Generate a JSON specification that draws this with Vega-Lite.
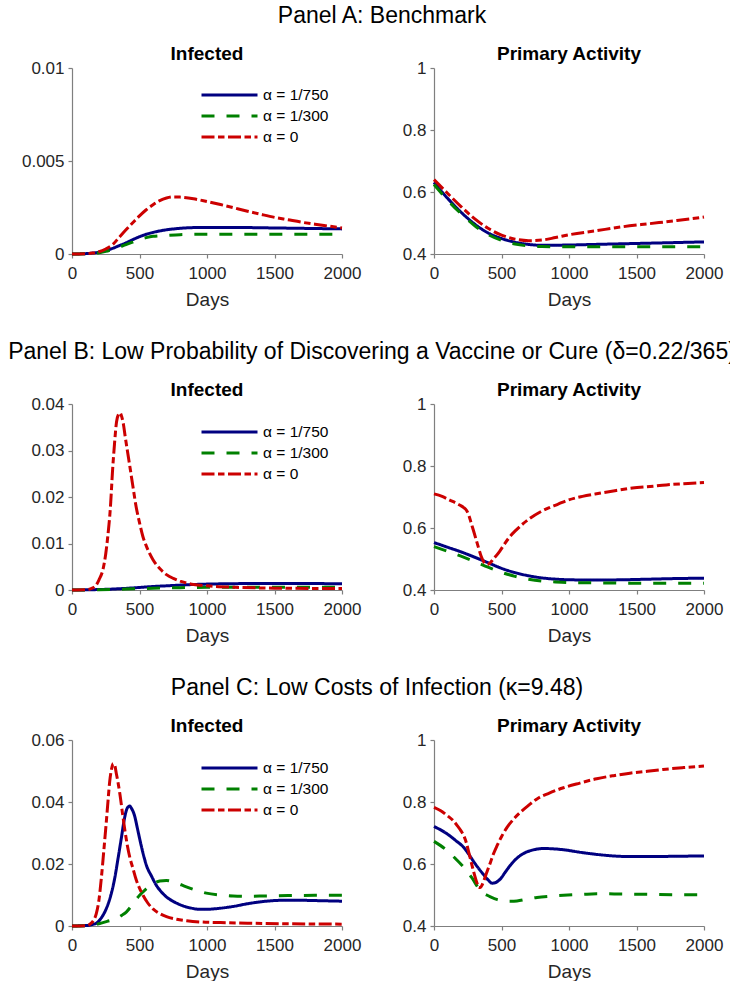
{
  "$schema": "https://vega.github.io/schema/vega-lite/v6.json",
  "background": "white",
  "padding": {"left": 8, "top": 5, "right": 0, "bottom": 0},
  "config": {
    "font": "Liberation Sans",
    "view": {"stroke": null},
    "axis": {
      "grid": false, "domainColor": "#7f7f7f", "tickColor": "#7f7f7f", "tickSize": 4,
      "domainWidth": 1.2, "tickWidth": 1.2,
      "labelFont": "Liberation Sans", "labelFontSize": 17, "labelColor": "#262626",
      "titleFont": "Liberation Sans", "titleFontSize": 19, "titleFontWeight": "normal", "titleColor": "#262626",
      "labelFlush": false, "labelOverlap": false
    },
    "axisX": {"labelPadding": 7, "titlePadding": 9},
    "axisY": {"labelPadding": 4},
    "title": {"font": "Liberation Sans", "fontSize": 19, "fontWeight": "bold", "color": "#000000", "offset": -5, "anchor": "middle", "frame": "group"},
    "legend": {
      "symbolType": "stroke", "symbolSize": 3136, "symbolStrokeWidth": 3, "clipHeight": 16,
      "labelFont": "Liberation Sans", "labelFontSize": 15.5, "labelColor": "#000000",
      "labelOffset": 4, "rowPadding": 4
    }
  },
  "datasets": {
    "aI": [
      {"s": "1/750", "d": 0, "v": 0}, {"s": "1/750", "d": 100, "v": 0.00002}, {"s": "1/750", "d": 150, "v": 0.00005}, {"s": "1/750", "d": 200, "v": 0.0001}, {"s": "1/750", "d": 250, "v": 0.00018}, {"s": "1/750", "d": 300, "v": 0.0003}, {"s": "1/750", "d": 350, "v": 0.00045}, {"s": "1/750", "d": 400, "v": 0.0006}, {"s": "1/750", "d": 450, "v": 0.00077}, {"s": "1/750", "d": 500, "v": 0.00093}, {"s": "1/750", "d": 550, "v": 0.00106}, {"s": "1/750", "d": 600, "v": 0.00116}, {"s": "1/750", "d": 650, "v": 0.00124}, {"s": "1/750", "d": 700, "v": 0.0013}, {"s": "1/750", "d": 800, "v": 0.00138}, {"s": "1/750", "d": 900, "v": 0.00142}, {"s": "1/750", "d": 1000, "v": 0.00143}, {"s": "1/750", "d": 1200, "v": 0.00143}, {"s": "1/750", "d": 1400, "v": 0.00141}, {"s": "1/750", "d": 1600, "v": 0.00139}, {"s": "1/750", "d": 1800, "v": 0.00137}, {"s": "1/750", "d": 2000, "v": 0.00135},
      {"s": "1/300", "d": 0, "v": 0}, {"s": "1/300", "d": 150, "v": 0.00003}, {"s": "1/300", "d": 200, "v": 0.00007}, {"s": "1/300", "d": 250, "v": 0.00014}, {"s": "1/300", "d": 300, "v": 0.00025}, {"s": "1/300", "d": 350, "v": 0.00038}, {"s": "1/300", "d": 400, "v": 0.0005}, {"s": "1/300", "d": 450, "v": 0.00064}, {"s": "1/300", "d": 500, "v": 0.00078}, {"s": "1/300", "d": 550, "v": 0.00088}, {"s": "1/300", "d": 600, "v": 0.00095}, {"s": "1/300", "d": 700, "v": 0.001}, {"s": "1/300", "d": 800, "v": 0.00104}, {"s": "1/300", "d": 1000, "v": 0.00106}, {"s": "1/300", "d": 1500, "v": 0.00106}, {"s": "1/300", "d": 2000, "v": 0.00106},
      {"s": "0", "d": 0, "v": 0}, {"s": "0", "d": 100, "v": 0.00002}, {"s": "0", "d": 150, "v": 0.00005}, {"s": "0", "d": 200, "v": 0.00012}, {"s": "0", "d": 250, "v": 0.00027}, {"s": "0", "d": 300, "v": 0.0005}, {"s": "0", "d": 350, "v": 0.0009}, {"s": "0", "d": 400, "v": 0.0013}, {"s": "0", "d": 450, "v": 0.00168}, {"s": "0", "d": 500, "v": 0.00205}, {"s": "0", "d": 550, "v": 0.00238}, {"s": "0", "d": 600, "v": 0.00265}, {"s": "0", "d": 650, "v": 0.00287}, {"s": "0", "d": 700, "v": 0.00301}, {"s": "0", "d": 750, "v": 0.00307}, {"s": "0", "d": 800, "v": 0.00306}, {"s": "0", "d": 900, "v": 0.00297}, {"s": "0", "d": 1000, "v": 0.00282}, {"s": "0", "d": 1100, "v": 0.00266}, {"s": "0", "d": 1200, "v": 0.00248}, {"s": "0", "d": 1300, "v": 0.0023}, {"s": "0", "d": 1400, "v": 0.00213}, {"s": "0", "d": 1500, "v": 0.00197}, {"s": "0", "d": 1600, "v": 0.00184}, {"s": "0", "d": 1700, "v": 0.00171}, {"s": "0", "d": 1800, "v": 0.0016}, {"s": "0", "d": 1900, "v": 0.0015}, {"s": "0", "d": 2000, "v": 0.0014}
    ],
    "aP": [
      {"s": "1/750", "d": 0, "v": 0.631}, {"s": "1/750", "d": 100, "v": 0.58}, {"s": "1/750", "d": 200, "v": 0.535}, {"s": "1/750", "d": 300, "v": 0.497}, {"s": "1/750", "d": 400, "v": 0.468}, {"s": "1/750", "d": 500, "v": 0.45}, {"s": "1/750", "d": 600, "v": 0.438}, {"s": "1/750", "d": 700, "v": 0.431}, {"s": "1/750", "d": 800, "v": 0.428}, {"s": "1/750", "d": 1000, "v": 0.429}, {"s": "1/750", "d": 1200, "v": 0.431}, {"s": "1/750", "d": 1400, "v": 0.433}, {"s": "1/750", "d": 1600, "v": 0.435}, {"s": "1/750", "d": 1800, "v": 0.437}, {"s": "1/750", "d": 2000, "v": 0.439},
      {"s": "1/300", "d": 0, "v": 0.624}, {"s": "1/300", "d": 100, "v": 0.574}, {"s": "1/300", "d": 200, "v": 0.53}, {"s": "1/300", "d": 300, "v": 0.492}, {"s": "1/300", "d": 400, "v": 0.463}, {"s": "1/300", "d": 500, "v": 0.444}, {"s": "1/300", "d": 600, "v": 0.432}, {"s": "1/300", "d": 700, "v": 0.426}, {"s": "1/300", "d": 800, "v": 0.424}, {"s": "1/300", "d": 1000, "v": 0.423}, {"s": "1/300", "d": 1500, "v": 0.423}, {"s": "1/300", "d": 2000, "v": 0.423},
      {"s": "0", "d": 0, "v": 0.64}, {"s": "0", "d": 100, "v": 0.596}, {"s": "0", "d": 200, "v": 0.553}, {"s": "0", "d": 300, "v": 0.514}, {"s": "0", "d": 400, "v": 0.483}, {"s": "0", "d": 500, "v": 0.461}, {"s": "0", "d": 600, "v": 0.448}, {"s": "0", "d": 700, "v": 0.443}, {"s": "0", "d": 800, "v": 0.445}, {"s": "0", "d": 900, "v": 0.453}, {"s": "0", "d": 1000, "v": 0.462}, {"s": "0", "d": 1200, "v": 0.475}, {"s": "0", "d": 1400, "v": 0.488}, {"s": "0", "d": 1600, "v": 0.498}, {"s": "0", "d": 1800, "v": 0.508}, {"s": "0", "d": 2000, "v": 0.519}
    ],
    "bI": [
      {"s": "1/750", "d": 0, "v": 0}, {"s": "1/750", "d": 100, "v": 0.00003}, {"s": "1/750", "d": 200, "v": 0.0001}, {"s": "1/750", "d": 300, "v": 0.0002}, {"s": "1/750", "d": 400, "v": 0.00035}, {"s": "1/750", "d": 500, "v": 0.00055}, {"s": "1/750", "d": 600, "v": 0.00075}, {"s": "1/750", "d": 700, "v": 0.0009}, {"s": "1/750", "d": 800, "v": 0.00105}, {"s": "1/750", "d": 900, "v": 0.00118}, {"s": "1/750", "d": 1000, "v": 0.00127}, {"s": "1/750", "d": 1200, "v": 0.00136}, {"s": "1/750", "d": 1400, "v": 0.0014}, {"s": "1/750", "d": 1600, "v": 0.0014}, {"s": "1/750", "d": 1800, "v": 0.00138}, {"s": "1/750", "d": 2000, "v": 0.00135},
      {"s": "1/300", "d": 0, "v": 0}, {"s": "1/300", "d": 200, "v": 0.00005}, {"s": "1/300", "d": 400, "v": 0.0002}, {"s": "1/300", "d": 600, "v": 0.00038}, {"s": "1/300", "d": 800, "v": 0.0005}, {"s": "1/300", "d": 1000, "v": 0.00057}, {"s": "1/300", "d": 1500, "v": 0.0006}, {"s": "1/300", "d": 2000, "v": 0.0006},
      {"s": "0", "d": 0, "v": 0}, {"s": "0", "d": 100, "v": 0.00005}, {"s": "0", "d": 150, "v": 0.0004}, {"s": "0", "d": 180, "v": 0.0011}, {"s": "0", "d": 200, "v": 0.0022}, {"s": "0", "d": 230, "v": 0.0045}, {"s": "0", "d": 250, "v": 0.0078}, {"s": "0", "d": 265, "v": 0.0115}, {"s": "0", "d": 285, "v": 0.018}, {"s": "0", "d": 300, "v": 0.0255}, {"s": "0", "d": 315, "v": 0.0315}, {"s": "0", "d": 330, "v": 0.0362}, {"s": "0", "d": 345, "v": 0.0378}, {"s": "0", "d": 355, "v": 0.0381}, {"s": "0", "d": 365, "v": 0.0376}, {"s": "0", "d": 380, "v": 0.0358}, {"s": "0", "d": 395, "v": 0.0328}, {"s": "0", "d": 410, "v": 0.03}, {"s": "0", "d": 430, "v": 0.0263}, {"s": "0", "d": 450, "v": 0.0225}, {"s": "0", "d": 475, "v": 0.0179}, {"s": "0", "d": 500, "v": 0.0145}, {"s": "0", "d": 525, "v": 0.0115}, {"s": "0", "d": 550, "v": 0.0095}, {"s": "0", "d": 600, "v": 0.0065}, {"s": "0", "d": 650, "v": 0.0046}, {"s": "0", "d": 700, "v": 0.0033}, {"s": "0", "d": 750, "v": 0.0025}, {"s": "0", "d": 800, "v": 0.0019}, {"s": "0", "d": 850, "v": 0.0015}, {"s": "0", "d": 900, "v": 0.0012}, {"s": "0", "d": 1000, "v": 0.0009}, {"s": "0", "d": 1200, "v": 0.0006}, {"s": "0", "d": 1500, "v": 0.0004}, {"s": "0", "d": 2000, "v": 0.0003}
    ],
    "bP": [
      {"s": "1/750", "d": 0, "v": 0.553}, {"s": "1/750", "d": 100, "v": 0.538}, {"s": "1/750", "d": 200, "v": 0.523}, {"s": "1/750", "d": 300, "v": 0.506}, {"s": "1/750", "d": 400, "v": 0.488}, {"s": "1/750", "d": 500, "v": 0.47}, {"s": "1/750", "d": 600, "v": 0.456}, {"s": "1/750", "d": 700, "v": 0.446}, {"s": "1/750", "d": 800, "v": 0.439}, {"s": "1/750", "d": 900, "v": 0.435}, {"s": "1/750", "d": 1000, "v": 0.433}, {"s": "1/750", "d": 1200, "v": 0.432}, {"s": "1/750", "d": 1400, "v": 0.433}, {"s": "1/750", "d": 1600, "v": 0.435}, {"s": "1/750", "d": 1800, "v": 0.437}, {"s": "1/750", "d": 2000, "v": 0.438},
      {"s": "1/300", "d": 0, "v": 0.54}, {"s": "1/300", "d": 100, "v": 0.525}, {"s": "1/300", "d": 200, "v": 0.509}, {"s": "1/300", "d": 300, "v": 0.492}, {"s": "1/300", "d": 400, "v": 0.474}, {"s": "1/300", "d": 500, "v": 0.457}, {"s": "1/300", "d": 600, "v": 0.444}, {"s": "1/300", "d": 700, "v": 0.435}, {"s": "1/300", "d": 800, "v": 0.429}, {"s": "1/300", "d": 900, "v": 0.426}, {"s": "1/300", "d": 1000, "v": 0.424}, {"s": "1/300", "d": 1200, "v": 0.423}, {"s": "1/300", "d": 1500, "v": 0.422}, {"s": "1/300", "d": 2000, "v": 0.422},
      {"s": "0", "d": 0, "v": 0.71}, {"s": "0", "d": 60, "v": 0.702}, {"s": "0", "d": 116, "v": 0.69}, {"s": "0", "d": 160, "v": 0.681}, {"s": "0", "d": 190, "v": 0.674}, {"s": "0", "d": 220, "v": 0.666}, {"s": "0", "d": 239, "v": 0.658}, {"s": "0", "d": 258, "v": 0.641}, {"s": "0", "d": 276, "v": 0.615}, {"s": "0", "d": 295, "v": 0.588}, {"s": "0", "d": 313, "v": 0.561}, {"s": "0", "d": 332, "v": 0.533}, {"s": "0", "d": 350, "v": 0.508}, {"s": "0", "d": 370, "v": 0.49}, {"s": "0", "d": 390, "v": 0.483}, {"s": "0", "d": 405, "v": 0.484}, {"s": "0", "d": 440, "v": 0.5}, {"s": "0", "d": 485, "v": 0.524}, {"s": "0", "d": 520, "v": 0.547}, {"s": "0", "d": 560, "v": 0.571}, {"s": "0", "d": 610, "v": 0.594}, {"s": "0", "d": 660, "v": 0.614}, {"s": "0", "d": 720, "v": 0.634}, {"s": "0", "d": 780, "v": 0.65}, {"s": "0", "d": 850, "v": 0.665}, {"s": "0", "d": 920, "v": 0.677}, {"s": "0", "d": 980, "v": 0.688}, {"s": "0", "d": 1100, "v": 0.702}, {"s": "0", "d": 1225, "v": 0.712}, {"s": "0", "d": 1350, "v": 0.721}, {"s": "0", "d": 1470, "v": 0.729}, {"s": "0", "d": 1600, "v": 0.734}, {"s": "0", "d": 1720, "v": 0.739}, {"s": "0", "d": 1850, "v": 0.743}, {"s": "0", "d": 2000, "v": 0.747}
    ],
    "cI": [
      {"s": "1/750", "d": 0, "v": 0}, {"s": "1/750", "d": 120, "v": 0.0002}, {"s": "1/750", "d": 150, "v": 0.0005}, {"s": "1/750", "d": 180, "v": 0.0009}, {"s": "1/750", "d": 215, "v": 0.0025}, {"s": "1/750", "d": 254, "v": 0.0056}, {"s": "1/750", "d": 285, "v": 0.0095}, {"s": "1/750", "d": 316, "v": 0.0153}, {"s": "1/750", "d": 340, "v": 0.0215}, {"s": "1/750", "d": 365, "v": 0.0282}, {"s": "1/750", "d": 385, "v": 0.0338}, {"s": "1/750", "d": 402, "v": 0.0372}, {"s": "1/750", "d": 415, "v": 0.0384}, {"s": "1/750", "d": 427, "v": 0.0387}, {"s": "1/750", "d": 440, "v": 0.038}, {"s": "1/750", "d": 464, "v": 0.0355}, {"s": "1/750", "d": 482, "v": 0.032}, {"s": "1/750", "d": 501, "v": 0.0282}, {"s": "1/750", "d": 525, "v": 0.0237}, {"s": "1/750", "d": 551, "v": 0.0196}, {"s": "1/750", "d": 590, "v": 0.016}, {"s": "1/750", "d": 625, "v": 0.0131}, {"s": "1/750", "d": 660, "v": 0.0111}, {"s": "1/750", "d": 699, "v": 0.0094}, {"s": "1/750", "d": 760, "v": 0.0077}, {"s": "1/750", "d": 822, "v": 0.0065}, {"s": "1/750", "d": 880, "v": 0.0058}, {"s": "1/750", "d": 946, "v": 0.0054}, {"s": "1/750", "d": 1000, "v": 0.0054}, {"s": "1/750", "d": 1069, "v": 0.0056}, {"s": "1/750", "d": 1193, "v": 0.0063}, {"s": "1/750", "d": 1316, "v": 0.0073}, {"s": "1/750", "d": 1440, "v": 0.008}, {"s": "1/750", "d": 1563, "v": 0.0083}, {"s": "1/750", "d": 1686, "v": 0.0083}, {"s": "1/750", "d": 1800, "v": 0.0082}, {"s": "1/750", "d": 2000, "v": 0.008},
      {"s": "1/300", "d": 0, "v": 0}, {"s": "1/300", "d": 150, "v": 0.0002}, {"s": "1/300", "d": 205, "v": 0.0008}, {"s": "1/300", "d": 260, "v": 0.0015}, {"s": "1/300", "d": 328, "v": 0.0024}, {"s": "1/300", "d": 370, "v": 0.0035}, {"s": "1/300", "d": 402, "v": 0.0045}, {"s": "1/300", "d": 440, "v": 0.0065}, {"s": "1/300", "d": 470, "v": 0.0083}, {"s": "1/300", "d": 501, "v": 0.0099}, {"s": "1/300", "d": 550, "v": 0.012}, {"s": "1/300", "d": 600, "v": 0.0136}, {"s": "1/300", "d": 650, "v": 0.0145}, {"s": "1/300", "d": 699, "v": 0.0147}, {"s": "1/300", "d": 760, "v": 0.0141}, {"s": "1/300", "d": 847, "v": 0.0126}, {"s": "1/300", "d": 920, "v": 0.0115}, {"s": "1/300", "d": 995, "v": 0.0106}, {"s": "1/300", "d": 1100, "v": 0.01}, {"s": "1/300", "d": 1193, "v": 0.0097}, {"s": "1/300", "d": 1300, "v": 0.0096}, {"s": "1/300", "d": 1440, "v": 0.0097}, {"s": "1/300", "d": 1600, "v": 0.0098}, {"s": "1/300", "d": 1800, "v": 0.0099}, {"s": "1/300", "d": 2000, "v": 0.0099},
      {"s": "0", "d": 0, "v": 0}, {"s": "0", "d": 100, "v": 0.0001}, {"s": "0", "d": 130, "v": 0.0005}, {"s": "0", "d": 155, "v": 0.0015}, {"s": "0", "d": 180, "v": 0.004}, {"s": "0", "d": 200, "v": 0.0085}, {"s": "0", "d": 217, "v": 0.0153}, {"s": "0", "d": 235, "v": 0.024}, {"s": "0", "d": 254, "v": 0.0335}, {"s": "0", "d": 268, "v": 0.041}, {"s": "0", "d": 279, "v": 0.0465}, {"s": "0", "d": 292, "v": 0.0505}, {"s": "0", "d": 305, "v": 0.0524}, {"s": "0", "d": 315, "v": 0.0521}, {"s": "0", "d": 327, "v": 0.0495}, {"s": "0", "d": 340, "v": 0.0465}, {"s": "0", "d": 355, "v": 0.0425}, {"s": "0", "d": 375, "v": 0.036}, {"s": "0", "d": 390, "v": 0.0314}, {"s": "0", "d": 410, "v": 0.026}, {"s": "0", "d": 430, "v": 0.0218}, {"s": "0", "d": 452, "v": 0.0185}, {"s": "0", "d": 475, "v": 0.015}, {"s": "0", "d": 500, "v": 0.0122}, {"s": "0", "d": 526, "v": 0.0099}, {"s": "0", "d": 560, "v": 0.0075}, {"s": "0", "d": 600, "v": 0.0055}, {"s": "0", "d": 650, "v": 0.004}, {"s": "0", "d": 700, "v": 0.003}, {"s": "0", "d": 775, "v": 0.0022}, {"s": "0", "d": 850, "v": 0.0017}, {"s": "0", "d": 950, "v": 0.0013}, {"s": "0", "d": 1100, "v": 0.0011}, {"s": "0", "d": 1300, "v": 0.0009}, {"s": "0", "d": 1600, "v": 0.0007}, {"s": "0", "d": 2000, "v": 0.0006}
    ],
    "cP": [
      {"s": "1/750", "d": 0, "v": 0.721}, {"s": "1/750", "d": 98, "v": 0.697}, {"s": "1/750", "d": 160, "v": 0.676}, {"s": "1/750", "d": 221, "v": 0.653}, {"s": "1/750", "d": 260, "v": 0.63}, {"s": "1/750", "d": 295, "v": 0.607}, {"s": "1/750", "d": 330, "v": 0.586}, {"s": "1/750", "d": 369, "v": 0.565}, {"s": "1/750", "d": 400, "v": 0.549}, {"s": "1/750", "d": 431, "v": 0.538}, {"s": "1/750", "d": 460, "v": 0.541}, {"s": "1/750", "d": 492, "v": 0.552}, {"s": "1/750", "d": 530, "v": 0.575}, {"s": "1/750", "d": 566, "v": 0.596}, {"s": "1/750", "d": 610, "v": 0.617}, {"s": "1/750", "d": 664, "v": 0.634}, {"s": "1/750", "d": 740, "v": 0.646}, {"s": "1/750", "d": 812, "v": 0.65}, {"s": "1/750", "d": 880, "v": 0.649}, {"s": "1/750", "d": 959, "v": 0.646}, {"s": "1/750", "d": 1080, "v": 0.638}, {"s": "1/750", "d": 1205, "v": 0.631}, {"s": "1/750", "d": 1330, "v": 0.626}, {"s": "1/750", "d": 1451, "v": 0.624}, {"s": "1/750", "d": 1600, "v": 0.624}, {"s": "1/750", "d": 1800, "v": 0.625}, {"s": "1/750", "d": 2000, "v": 0.626},
      {"s": "1/300", "d": 0, "v": 0.673}, {"s": "1/300", "d": 98, "v": 0.643}, {"s": "1/300", "d": 160, "v": 0.617}, {"s": "1/300", "d": 221, "v": 0.589}, {"s": "1/300", "d": 280, "v": 0.556}, {"s": "1/300", "d": 332, "v": 0.521}, {"s": "1/300", "d": 360, "v": 0.508}, {"s": "1/300", "d": 390, "v": 0.5}, {"s": "1/300", "d": 418, "v": 0.494}, {"s": "1/300", "d": 470, "v": 0.485}, {"s": "1/300", "d": 517, "v": 0.481}, {"s": "1/300", "d": 570, "v": 0.48}, {"s": "1/300", "d": 615, "v": 0.481}, {"s": "1/300", "d": 690, "v": 0.487}, {"s": "1/300", "d": 763, "v": 0.492}, {"s": "1/300", "d": 860, "v": 0.496}, {"s": "1/300", "d": 959, "v": 0.499}, {"s": "1/300", "d": 1100, "v": 0.502}, {"s": "1/300", "d": 1205, "v": 0.504}, {"s": "1/300", "d": 1400, "v": 0.503}, {"s": "1/300", "d": 1600, "v": 0.502}, {"s": "1/300", "d": 1800, "v": 0.501}, {"s": "1/300", "d": 2000, "v": 0.501},
      {"s": "0", "d": 0, "v": 0.783}, {"s": "0", "d": 50, "v": 0.772}, {"s": "0", "d": 98, "v": 0.756}, {"s": "0", "d": 140, "v": 0.741}, {"s": "0", "d": 172, "v": 0.724}, {"s": "0", "d": 200, "v": 0.707}, {"s": "0", "d": 221, "v": 0.691}, {"s": "0", "d": 240, "v": 0.668}, {"s": "0", "d": 258, "v": 0.637}, {"s": "0", "d": 277, "v": 0.604}, {"s": "0", "d": 295, "v": 0.573}, {"s": "0", "d": 315, "v": 0.543}, {"s": "0", "d": 332, "v": 0.524}, {"s": "0", "d": 345, "v": 0.525}, {"s": "0", "d": 357, "v": 0.533}, {"s": "0", "d": 369, "v": 0.546}, {"s": "0", "d": 390, "v": 0.572}, {"s": "0", "d": 418, "v": 0.605}, {"s": "0", "d": 440, "v": 0.632}, {"s": "0", "d": 467, "v": 0.659}, {"s": "0", "d": 500, "v": 0.688}, {"s": "0", "d": 541, "v": 0.718}, {"s": "0", "d": 590, "v": 0.745}, {"s": "0", "d": 640, "v": 0.767}, {"s": "0", "d": 700, "v": 0.789}, {"s": "0", "d": 763, "v": 0.81}, {"s": "0", "d": 850, "v": 0.828}, {"s": "0", "d": 959, "v": 0.846}, {"s": "0", "d": 1080, "v": 0.861}, {"s": "0", "d": 1205, "v": 0.875}, {"s": "0", "d": 1330, "v": 0.885}, {"s": "0", "d": 1451, "v": 0.893}, {"s": "0", "d": 1580, "v": 0.899}, {"s": "0", "d": 1697, "v": 0.905}, {"s": "0", "d": 1850, "v": 0.911}, {"s": "0", "d": 2000, "v": 0.916}
    ]
  },
  "resolve": {"scale": {"color": "independent", "strokeDash": "independent"}},
  "spacing": 32,
  "vconcat": [
    {
      "title": {"text": "Panel A: Benchmark", "fontSize": 23, "fontWeight": "normal", "offset": 17, "dx": 310},
      "resolve": {"scale": {"color": "independent", "strokeDash": "independent"}},
      "spacing": 41,
      "hconcat": [
        {
          "width": 270, "height": 186, "title": "Infected",
          "data": {"name": "aI"},
          "mark": {"type": "line", "strokeWidth": 3, "interpolate": "monotone"},
          "encoding": {
            "x": {"field": "d", "type": "quantitative", "scale": {"domain": [0, 2000], "nice": false}, "axis": {"values": [0, 500, 1000, 1500, 2000], "format": "d", "title": "Days"}},
            "y": {"field": "v", "type": "quantitative", "scale": {"domain": [0, 0.01], "nice": false}, "axis": {"values": [0, 0.005, 0.01], "format": "~g", "title": null}},
            "color": {"field": "s", "type": "nominal", "scale": {"domain": ["1/750", "1/300", "0"], "range": ["#000080", "#008000", "#cc0000"]}, "legend": {"title": null, "orient": "none", "legendX": 128, "legendY": 19, "labelExpr": "'α = ' + datum.label"}},
            "strokeDash": {"field": "s", "type": "nominal", "scale": {"domain": ["1/750", "1/300", "0"], "range": [[1, 0], [13, 12], [13, 3.5, 6.5, 3.5]]}, "legend": {"title": null, "orient": "none", "legendX": 128, "legendY": 19, "labelExpr": "'α = ' + datum.label"}}
          }
        },
        {
          "width": 270, "height": 186, "title": "Primary Activity",
          "data": {"name": "aP"},
          "mark": {"type": "line", "strokeWidth": 3, "interpolate": "monotone"},
          "encoding": {
            "x": {"field": "d", "type": "quantitative", "scale": {"domain": [0, 2000], "nice": false}, "axis": {"values": [0, 500, 1000, 1500, 2000], "format": "d", "title": "Days"}},
            "y": {"field": "v", "type": "quantitative", "scale": {"domain": [0.4, 1], "nice": false, "zero": false}, "axis": {"values": [0.4, 0.6, 0.8, 1], "format": "~g", "title": null}},
            "color": {"field": "s", "type": "nominal", "scale": {"domain": ["1/750", "1/300", "0"], "range": ["#000080", "#008000", "#cc0000"]}, "legend": null},
            "strokeDash": {"field": "s", "type": "nominal", "scale": {"domain": ["1/750", "1/300", "0"], "range": [[1, 0], [13, 12], [13, 3.5, 6.5, 3.5]]}, "legend": null}
          }
        }
      ]
    },
    {
      "title": {"text": "Panel B: Low Probability of Discovering a Vaccine or Cure (δ=0.22/365)", "fontSize": 23, "fontWeight": "normal", "offset": 17, "dx": 300},
      "resolve": {"scale": {"color": "independent", "strokeDash": "independent"}},
      "spacing": 41,
      "hconcat": [
        {
          "width": 270, "height": 186, "title": "Infected",
          "data": {"name": "bI"},
          "mark": {"type": "line", "strokeWidth": 3, "interpolate": "monotone"},
          "encoding": {
            "x": {"field": "d", "type": "quantitative", "scale": {"domain": [0, 2000], "nice": false}, "axis": {"values": [0, 500, 1000, 1500, 2000], "format": "d", "title": "Days"}},
            "y": {"field": "v", "type": "quantitative", "scale": {"domain": [0, 0.04], "nice": false}, "axis": {"values": [0, 0.01, 0.02, 0.03, 0.04], "format": "~g", "title": null}},
            "color": {"field": "s", "type": "nominal", "scale": {"domain": ["1/750", "1/300", "0"], "range": ["#000080", "#008000", "#cc0000"]}, "legend": {"title": null, "orient": "none", "legendX": 128, "legendY": 20, "labelExpr": "'α = ' + datum.label"}},
            "strokeDash": {"field": "s", "type": "nominal", "scale": {"domain": ["1/750", "1/300", "0"], "range": [[1, 0], [13, 12], [13, 3.5, 6.5, 3.5]]}, "legend": {"title": null, "orient": "none", "legendX": 128, "legendY": 20, "labelExpr": "'α = ' + datum.label"}}
          }
        },
        {
          "width": 270, "height": 186, "title": "Primary Activity",
          "data": {"name": "bP"},
          "mark": {"type": "line", "strokeWidth": 3, "interpolate": "monotone"},
          "encoding": {
            "x": {"field": "d", "type": "quantitative", "scale": {"domain": [0, 2000], "nice": false}, "axis": {"values": [0, 500, 1000, 1500, 2000], "format": "d", "title": "Days"}},
            "y": {"field": "v", "type": "quantitative", "scale": {"domain": [0.4, 1], "nice": false, "zero": false}, "axis": {"values": [0.4, 0.6, 0.8, 1], "format": "~g", "title": null}},
            "color": {"field": "s", "type": "nominal", "scale": {"domain": ["1/750", "1/300", "0"], "range": ["#000080", "#008000", "#cc0000"]}, "legend": null},
            "strokeDash": {"field": "s", "type": "nominal", "scale": {"domain": ["1/750", "1/300", "0"], "range": [[1, 0], [13, 12], [13, 3.5, 6.5, 3.5]]}, "legend": null}
          }
        }
      ]
    },
    {
      "title": {"text": "Panel C: Low Costs of Infection (κ=9.48)", "fontSize": 23, "fontWeight": "normal", "offset": 17, "dx": 305},
      "resolve": {"scale": {"color": "independent", "strokeDash": "independent"}},
      "spacing": 41,
      "hconcat": [
        {
          "width": 270, "height": 186, "title": "Infected",
          "data": {"name": "cI"},
          "mark": {"type": "line", "strokeWidth": 3, "interpolate": "monotone"},
          "encoding": {
            "x": {"field": "d", "type": "quantitative", "scale": {"domain": [0, 2000], "nice": false}, "axis": {"values": [0, 500, 1000, 1500, 2000], "format": "d", "title": "Days"}},
            "y": {"field": "v", "type": "quantitative", "scale": {"domain": [0, 0.06], "nice": false}, "axis": {"values": [0, 0.02, 0.04, 0.06], "format": "~g", "title": null}},
            "color": {"field": "s", "type": "nominal", "scale": {"domain": ["1/750", "1/300", "0"], "range": ["#000080", "#008000", "#cc0000"]}, "legend": {"title": null, "orient": "none", "legendX": 128, "legendY": 20, "labelExpr": "'α = ' + datum.label"}},
            "strokeDash": {"field": "s", "type": "nominal", "scale": {"domain": ["1/750", "1/300", "0"], "range": [[1, 0], [13, 12], [13, 3.5, 6.5, 3.5]]}, "legend": {"title": null, "orient": "none", "legendX": 128, "legendY": 20, "labelExpr": "'α = ' + datum.label"}}
          }
        },
        {
          "width": 270, "height": 186, "title": "Primary Activity",
          "data": {"name": "cP"},
          "mark": {"type": "line", "strokeWidth": 3, "interpolate": "monotone"},
          "encoding": {
            "x": {"field": "d", "type": "quantitative", "scale": {"domain": [0, 2000], "nice": false}, "axis": {"values": [0, 500, 1000, 1500, 2000], "format": "d", "title": "Days"}},
            "y": {"field": "v", "type": "quantitative", "scale": {"domain": [0.4, 1], "nice": false, "zero": false}, "axis": {"values": [0.4, 0.6, 0.8, 1], "format": "~g", "title": null}},
            "color": {"field": "s", "type": "nominal", "scale": {"domain": ["1/750", "1/300", "0"], "range": ["#000080", "#008000", "#cc0000"]}, "legend": null},
            "strokeDash": {"field": "s", "type": "nominal", "scale": {"domain": ["1/750", "1/300", "0"], "range": [[1, 0], [13, 12], [13, 3.5, 6.5, 3.5]]}, "legend": null}
          }
        }
      ]
    }
  ]
}
